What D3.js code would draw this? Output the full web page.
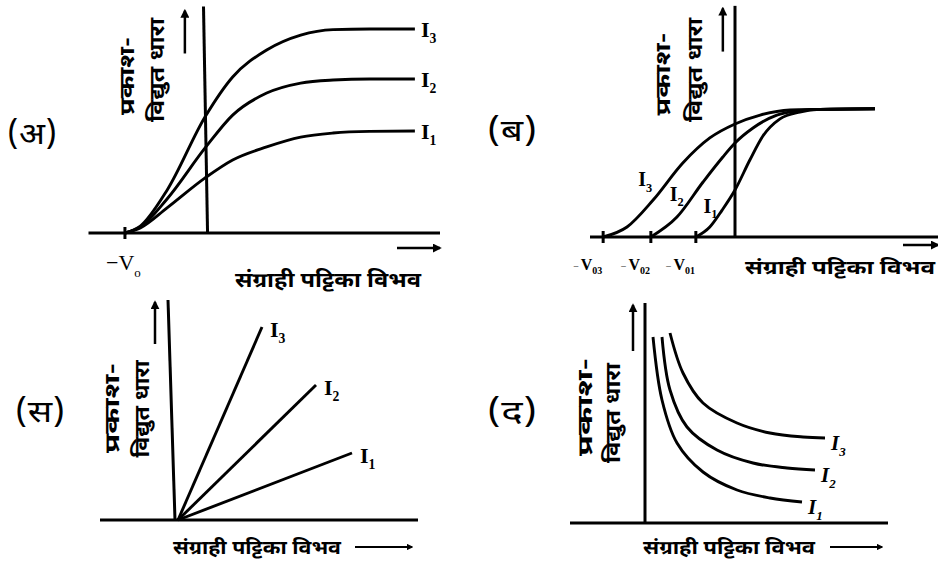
<!DOCTYPE html>
<html>
<head>
<meta charset="utf-8">
<script src="https://cdn.jsdelivr.net/npm/d3@7"></script>
<style>
  body { margin: 0; background: #fff; }
  .hi { font-family: "Noto Sans Devanagari", "Noto Serif Devanagari", "Noto Sans", sans-serif; font-weight: bold; fill: #000; }
  .lat { font-family: "Liberation Serif", "DejaVu Serif", serif; font-weight: bold; fill: #000; }
  .ax { stroke: #000; stroke-width: 3; fill: none; }
  .cv { stroke: #000; stroke-width: 2.9; fill: none; }
</style>
</head>
<body>
<svg id="chart" width="938" height="569"></svg>
<script>
// texts
var panelNames = ["(अ)", "(ब)", "(स)", "(द)"];
var yLabelTop = "प्रकाश-";
var yLabelBottom = "विद्युत धारा";
var xLabel = "संग्राही पट्टिका विभव";
var seriesNames = ["I3", "I2", "I1"];

// panel (अ): same stopping potential, different saturation
var aX  = [-1, -0.81, -0.48, -0.01, 0.33, 0.75, 1.17, 1.57, 2.02, 2.58];
var aI3 = [0, 0.34, 2.1, 5.7, 7.65, 8.97, 9.7, 9.97, 10, 10];
var aI2 = [0, 0.3, 1.67, 4.17, 5.78, 6.86, 7.35, 7.5, 7.55, 7.55];
var aI1 = [0, 0.25, 1.23, 2.7, 3.58, 4.22, 4.7, 4.9, 4.98, 5.0];
var aStop = -1;

// panel (ब): different stopping potentials, same saturation
var bI3x = [-2.93, -2.4, -1.82, -1.16, -0.56, 0, 0.56, 1.22, 1.89, 3.11];
var bI3y = [0, 0.79, 2.91, 5.83, 7.8, 8.9, 9.6, 10, 10.05, 10.1];
var bI2x = [-1.87, -1.29, -0.71, -0.27, 0, 0.4, 0.93, 1.38, 1.89, 3.11];
var bI2y = [0, 1.57, 4.33, 6.3, 7.4, 8.58, 9.6, 9.92, 10.05, 10.1];
var bI1x = [-0.87, -0.56, -0.29, 0, 0.33, 0.62, 1.0, 1.44, 1.89, 3.11];
var bI1y = [0, 0.79, 2.1, 3.7, 6.06, 7.95, 9.3, 9.84, 10.05, 10.1];
var bStops = [-2.93, -1.87, -0.87];
var bStopNames = ["03", "02", "01"];

// panel (स): straight lines from origin (I3, I2, I1)
var cEndX = [4.2, 6.9, 8.7];
var cEndY = [9.65, 6.75, 3.35];

// panel (द): falling curves
var dI3x = [1.25, 1.9, 2.9, 4.6, 6.25, 7.9, 9.0];
var dI3y = [9.5, 7.5, 6.0, 5.0, 4.5, 4.3, 4.25];
var dI2x = [0.85, 1.25, 2.1, 3.6, 5.4, 7.1, 8.5];
var dI2y = [9.3, 6.65, 4.8, 3.65, 3.0, 2.75, 2.65];
var dI1x = [0.4, 0.85, 1.6, 2.9, 4.6, 6.25, 7.85];
var dI1y = [9.3, 6.15, 4.0, 2.55, 1.65, 1.25, 1.05];

var svg = d3.select("#chart");

svg.append("defs").append("marker")
  .attr("id", "arr")
  .attr("viewBox", "0 0 10 10")
  .attr("refX", 8).attr("refY", 5)
  .attr("markerWidth", 3.6).attr("markerHeight", 3.6)
  .attr("orient", "auto")
  .append("path").attr("d", "M0,0L10,5L0,10z").attr("fill", "#000");

function zip(xs, ys) {
  return xs.map(function(v, i) { return [v, ys[i]]; });
}

function seg(g, x1, y1, x2, y2, cls, arrow) {
  var l = g.append("line").attr("class", cls || "ax")
    .attr("x1", x1).attr("y1", y1).attr("x2", x2).attr("y2", y2);
  if (arrow) l.attr("marker-end", "url(#arr)").style("stroke-width", 2.5);
  return l;
}

function curveLabel(g, name, x, y, size, italic) {
  var t = g.append("text").attr("class", "lat")
    .attr("x", x).attr("y", y).style("font-size", size + "px");
  if (italic) t.style("font-style", "italic");
  t.append("tspan").text(name.charAt(0));
  t.append("tspan").attr("dy", size * 0.28).style("font-size", (size * 0.62) + "px").text(name.slice(1));
}

// two rotated lines; a = [x, cy, length] for each
function yLabels(g, a, b, size) {
  g.append("text").attr("class", "hi")
    .attr("transform", "translate(" + a[0] + "," + a[1] + ") rotate(-90)")
    .attr("text-anchor", "middle").style("font-size", size + "px")
    .attr("textLength", a[2]).attr("lengthAdjust", "spacingAndGlyphs")
    .text(yLabelTop);
  g.append("text").attr("class", "hi")
    .attr("transform", "translate(" + b[0] + "," + b[1] + ") rotate(-90)")
    .attr("text-anchor", "middle").style("font-size", size + "px")
    .attr("textLength", b[2]).attr("lengthAdjust", "spacingAndGlyphs")
    .text(yLabelBottom);
}

function panelTitle(g, idx, x, y) {
  g.append("text").attr("class", "hi").attr("x", x).attr("y", y)
    .style("font-size", "30px").style("font-weight", "normal")
    .attr("textLength", 50).attr("lengthAdjust", "spacingAndGlyphs")
    .text(panelNames[idx]);
}

function bottomLabel(g, x, y, size, len) {
  g.append("text").attr("class", "hi").attr("x", x).attr("y", y)
    .style("font-size", size + "px")
    .attr("textLength", len).attr("lengthAdjust", "spacingAndGlyphs")
    .text(xLabel);
}

var line = d3.line().curve(d3.curveMonotoneX);

// ---------- (अ)
(function() {
  var g = svg.append("g");
  var x = d3.scaleLinear().domain([-1.45, 2.89]).range([88.5, 440]);
  var y = d3.scaleLinear().domain([0, 10]).range([233, 29]);
  line.x(function(d) { return x(d[0]); }).y(function(d) { return y(d[1]); });

  seg(g, x.range()[0], y(0), x.range()[1], y(0));
  seg(g, x(-0.03), y(11.1), x(0.02), y(0));
  seg(g, x(aStop), y(0) - 6, x(aStop), y(0) + 6, "ax");
  seg(g, x(-0.26), y(8.8), x(-0.26), y(10.9), "ax", true);
  seg(g, 397, 248, 440, 248, "ax", true);

  [aI3, aI2, aI1].forEach(function(s, i) {
    var pts = zip(aX, s);
    g.append("path").attr("class", "cv").attr("d", line(pts));
    var last = pts[pts.length - 1];
    curveLabel(g, seriesNames[i], x(last[0]) + 6, y(last[1]) + 8, 22);
  });

  var v = g.append("text").attr("class", "lat").attr("x", 106).attr("y", 270)
    .style("font-size", "22px").style("font-weight", "normal");
  v.append("tspan").text("−V");
  v.append("tspan").attr("dy", 7).style("font-size", "13px").text("o");

  yLabels(g, [134, 76, 78], [164, 70, 104], 20);
  panelTitle(g, 0, 7, 144);
  bottomLabel(g, 235, 287, 20, 186);
})();

// ---------- (ब)
(function() {
  var g = svg.append("g");
  var x = d3.scaleLinear().domain([-3.3, 4.5]).range([586.5, 937.5]);
  var y = d3.scaleLinear().domain([0, 10]).range([237, 110]);
  line.x(function(d) { return x(d[0]); }).y(function(d) { return y(d[1]); });

  seg(g, 590, y(0), 938, y(0));
  seg(g, x(0), y(18.2), x(0), y(0));
  bStops.forEach(function(s, i) {
    seg(g, x(s), y(0) - 6, x(s), y(0) + 6, "ax");
    var t = g.append("text").attr("class", "lat").attr("x", x(s) - 30).attr("y", 270)
      .style("font-size", "16px");
    t.append("tspan").style("font-size", "10px").style("font-weight", "normal").text("−");
    t.append("tspan").attr("dx", 2).text("V");
    t.append("tspan").attr("dy", 4).style("font-size", "10px").text(bStopNames[i]);
  });
  seg(g, x(-0.27), y(14.6), x(-0.27), y(18), "ax", true);
  seg(g, 903, 245, 938, 245, "ax", true);

  var curves = [zip(bI3x, bI3y), zip(bI2x, bI2y), zip(bI1x, bI1y)];
  curves.forEach(function(pts) {
    g.append("path").attr("class", "cv").attr("d", line(pts));
  });
  // labels sit just left of each rising flank
  curveLabel(g, seriesNames[0], x(-2.15), y(4.0), 20);
  curveLabel(g, seriesNames[1], x(-1.45), y(2.85), 20);
  curveLabel(g, seriesNames[2], x(-0.7), y(1.9), 20);

  yLabels(g, [670, 74, 83], [702, 70, 104], 20);
  panelTitle(g, 1, 487, 141);
  bottomLabel(g, 745, 274, 19, 190);
})();

// ---------- (स)
(function() {
  var g = svg.append("g");
  var x = d3.scaleLinear().domain([-3.9, 12]).range([100, 418]);
  var y = d3.scaleLinear().domain([0, 11]).range([520, 300]);

  seg(g, x.range()[0], y(0), x.range()[1], y(0));
  seg(g, x(-0.5), y(11), x(-0.15), y(0));
  seg(g, x(-1.15), y(8.8), x(-1.15), y(10.9), "ax", true);

  cEndX.forEach(function(ex, i) {
    var pts = [[0, 0], [ex, cEndY[i]]];
    g.append("path").attr("class", "cv")
      .attr("d", d3.line().x(function(d) { return x(d[0]); }).y(function(d) { return y(d[1]); })(pts));
    curveLabel(g, seriesNames[i], x(ex) + 8, y(cEndY[i]) + 10, 22);
  });

  yLabels(g, [119, 408, 90], [149, 409, 97], 20);
  panelTitle(g, 2, 15, 422);
  bottomLabel(g, 173, 554, 19, 168);
  seg(g, 355, 547, 412, 547, "ax", true).style("stroke-width", 1.8);
})();

// ---------- (द)
(function() {
  var g = svg.append("g");
  var x = d3.scaleLinear().domain([-3.75, 12.15]).range([570, 888]);
  var y = d3.scaleLinear().domain([0, 11]).range([523, 303]);
  var ln = d3.line().curve(d3.curveCatmullRom)
    .x(function(d) { return x(d[0]); }).y(function(d) { return y(d[1]); });

  seg(g, x.range()[0], y(0), x.range()[1], y(0));
  seg(g, x(0), y(11), x(0), y(0));
  seg(g, x(-0.6), y(8.6), x(-0.6), y(10.9), "ax", true);

  var curves = [zip(dI3x, dI3y), zip(dI2x, dI2y), zip(dI1x, dI1y)];
  curves.forEach(function(pts, i) {
    g.append("path").attr("class", "cv").attr("d", ln(pts));
    var last = pts[pts.length - 1];
    curveLabel(g, seriesNames[i], x(last[0]) + 6, y(last[1]) + 12, 21, true);
  });

  yLabels(g, [592, 407, 98], [620, 413, 100], 20);
  panelTitle(g, 3, 487, 422);
  bottomLabel(g, 643, 554, 19, 172);
  seg(g, 830, 547, 882, 547, "ax", true).style("stroke-width", 1.8);
})();
</script>
</body>
</html>
